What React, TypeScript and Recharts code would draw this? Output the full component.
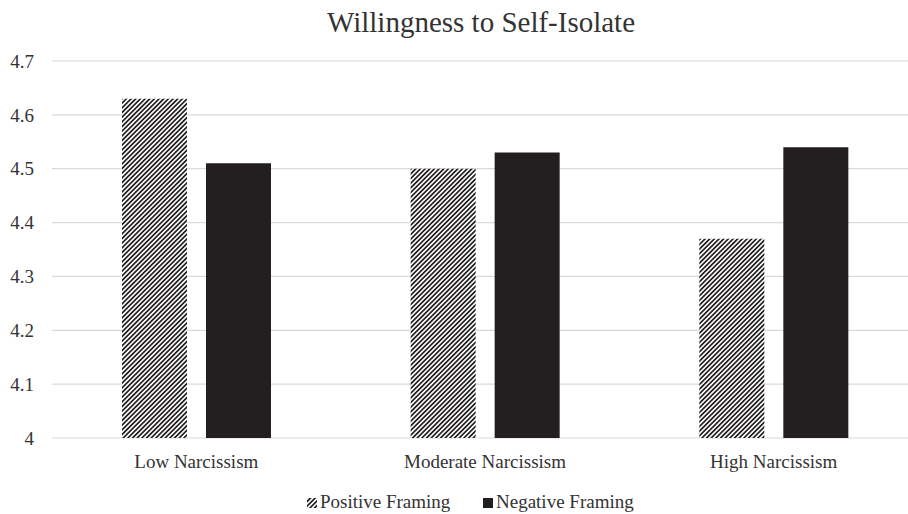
import React from 'react';
import { BarChart, Bar, XAxis, YAxis, CartesianGrid } from 'recharts';

const title = 'Willingness to Self-Isolate';
const categories = ['Low Narcissism', 'Moderate Narcissism', 'High Narcissism'];
const positiveFraming = [4.63, 4.5, 4.37];
const negativeFraming = [4.51, 4.53, 4.54];
const seriesNames = ['Positive Framing', 'Negative Framing'];
const yTicks = [4, 4.1, 4.2, 4.3, 4.4, 4.5, 4.6, 4.7];

const data = categories.map((c, i) => ({
  category: c,
  positive: positiveFraming[i],
  negative: negativeFraming[i],
}));

const FONT = "'Liberation Serif', Tinos, 'Times New Roman', Times, 'DejaVu Serif', serif";
const TEXT = '#333333';
const DARK = '#231f20';

export default function App() {
  const tickStyle = { fontFamily: FONT, fontSize: 19, fill: TEXT };
  return (
    <div
      style={{
        position: 'absolute',
        left: 0,
        top: 0,
        width: 908,
        height: 514,
        overflow: 'hidden',
        background: '#ffffff',
        fontFamily: FONT,
      }}
    >
      <BarChart
        width={920}
        height={514}
        data={data}
        margin={{ top: 61, right: 2, left: 0, bottom: 0 }}
        barGap={19}
        style={{ fontFamily: FONT }}
      >
        <CartesianGrid vertical={false} stroke="#d9d9d9" strokeWidth={1.2} />
        <XAxis
          dataKey="category"
          height={76}
          tickLine={false}
          axisLine={false}
          tickMargin={11}
          interval={0}
          tick={tickStyle}
        />
        <YAxis
          type="number"
          domain={[4, 4.7]}
          ticks={yTicks}
          allowDataOverflow
          width={52}
          tickLine={false}
          axisLine={false}
          tickMargin={12}
          tick={tickStyle}
          tickFormatter={(v: number) => String(Math.round(v * 10) / 10)}
        />
        <Bar
          dataKey="positive"
          name={seriesNames[0]}
          fill="url(#hatchPos)"
          barSize={65}
          isAnimationActive={false}
        />
        <Bar
          dataKey="negative"
          name={seriesNames[1]}
          fill={DARK}
          barSize={65}
          isAnimationActive={false}
        />
      </BarChart>
      <svg
        width={908}
        height={514}
        style={{ position: 'absolute', left: 0, top: 0, pointerEvents: 'none', fontFamily: FONT }}
      >
        <defs>
          <pattern
            id="hatchPos"
            patternUnits="userSpaceOnUse"
            width={3.3}
            height={3.3}
            patternTransform="rotate(45)"
          >
            <rect x={0} y={0} width={3.3} height={3.3} fill="#ffffff" />
            <rect x={0} y={0} width={1.7} height={3.3} fill={DARK} />
          </pattern>
        </defs>
        <text
          x={481}
          y={32}
          textAnchor="middle"
          fontFamily={FONT}
          fontSize={29}
          fill={TEXT}
        >
          {title}
        </text>
        <rect x={307} y={498} width={10} height={10} fill="url(#hatchPos)" />
        <text x={320} y={508} fontFamily={FONT} fontSize={19} fill={TEXT}>
          {seriesNames[0]}
        </text>
        <rect x={483} y={498} width={10} height={10} fill={DARK} />
        <text x={496} y={508} fontFamily={FONT} fontSize={19} fill={TEXT}>
          {seriesNames[1]}
        </text>
      </svg>
    </div>
  );
}
